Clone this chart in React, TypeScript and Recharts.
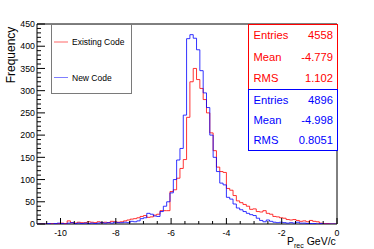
import React from "react";
import { LineChart, Line, XAxis, YAxis, ReferenceArea } from "recharts";

// Histogram binning (GeV/c)
const binStart = -10.84;
const binWidth = 0.12;

// Counts per bin, 90 bins
const existingCode = [
  0, 0, 0, 0, 1, 0, 1, 2, 1,
  7, 3, 2, 4, 3, 3, 5, 4, 3, 5, 3, 4, 3, 6, 5, 4,
  5, 7, 9, 11, 12, 14, 17, 19, 15, 16, 20, 22, 30, 30, 30, 73, 77, 103, 125,
  145, 240, 320, 350, 325, 305, 280, 250, 205,
  165, 128, 118, 116, 80, 76, 64, 52,
  48, 44, 40, 33, 34, 28, 27, 30, 24, 22, 17, 16, 14, 13, 10, 9, 10, 8, 6, 7, 5, 8, 6, 5, 2, 1, 1, 0, 0,
];

const newCode = [
  0, 0, 0, 1, 0, 1, 2, 1, 0,
  2, 3, 1, 2, 1, 2, 1, 2, 1, 2, 3, 2, 3, 2, 4, 3,
  3, 4, 3, 6, 5, 7, 12, 14, 24, 22, 18, 17, 28, 40, 50, 70, 100, 144, 170,
  245, 417, 426, 418, 392, 345, 295, 262, 200,
  150, 118, 92, 88, 60, 56, 45, 36,
  32, 28, 24, 21, 19, 13, 8, 5, 9, 6, 4, 3, 4, 3, 2, 3, 2, 4, 2, 2, 1, 1, 1, 0, 1, 0, 0, 0, 0,
];

const xMajorTicks = [-10, -8, -6, -4, -2, 0];
const xMinorTicks = [-10.5, -9.5, -9, -8.5, -7.5, -7, -6.5, -5.5, -5, -4.5, -3.5, -3, -2.5, -1.5, -1, -0.5];
const yMajorTicks = [0, 50, 100, 150, 200, 250, 300, 350, 400, 450];
const yMinorStep = 10;

const statLabels = ["Entries", "Mean", "RMS"];
const existingStats = ["4558", "-4.779", "1.102"];
const newStats = ["4896", "-4.998", "0.8051"];

const legendLabels = ["Existing Code", "New Code"];

const RED = "#ff0000";
const BLUE = "#0000ff";
const FONT = "'Liberation Sans', Arial, Helvetica, sans-serif";

const data = existingCode.map((v, i) => ({
  x: +(binStart + i * binWidth).toFixed(3),
  existing: v,
  newc: newCode[i],
}));
data.push({
  x: +(binStart + existingCode.length * binWidth).toFixed(3),
  existing: existingCode[existingCode.length - 1],
  newc: newCode[newCode.length - 1],
});

const xTicks = [...xMajorTicks, ...xMinorTicks].sort((a, b) => a - b);
const yTicks: number[] = [];
for (let t = 0; t <= 450; t += yMinorStep) yTicks.push(t);

const XTick = (props: any) => {
  const { x, y, payload } = props;
  const v = payload.value;
  const major = xMajorTicks.includes(v);
  return (
    <g>
      <line x1={x} x2={x} y1={y} y2={y - (major ? 6 : 3)} stroke="#000" strokeWidth={1} />
      {major && (
        <text x={x} y={y + 11.5} textAnchor="middle" fontSize={8.8} fontFamily={FONT} fill="#000">
          {v}
        </text>
      )}
    </g>
  );
};

const YTick = (props: any) => {
  const { x, y, payload } = props;
  const v = payload.value;
  const major = yMajorTicks.includes(v);
  return (
    <g>
      <line x1={x} x2={x + (major ? 8 : 4)} y1={y} y2={y} stroke="#000" strokeWidth={1} />
      {major && (
        <text x={x - 2} y={y + 3.2} textAnchor="end" fontSize={8.8} fontFamily={FONT} fill="#000">
          {v}
        </text>
      )}
    </g>
  );
};

const StatsBox = ({ y, h, color, values, rows }: any) => (
  <g>
    <rect x={248.5} y={y} width={89} height={h} fill="#fff" stroke={color} strokeWidth={1} />
    {statLabels.map((lab, i) => (
      <g key={lab}>
        <text x={253.5} y={rows[i] + 4} fontSize={11.2} fontFamily={FONT} fill={color}>
          {lab}
        </text>
        <text x={333} y={rows[i] + 4} fontSize={11.2} fontFamily={FONT} fill={color} textAnchor="end">
          {values[i]}
        </text>
      </g>
    ))}
  </g>
);

export default function App() {
  return (
    <div style={{ position: "absolute", left: 0, top: 0, width: 374, height: 249, background: "#fff" }}>
      <LineChart
        width={374}
        height={249}
        data={data}
        margin={{ top: 24, right: 37, bottom: 0, left: 0 }}
      >
        <XAxis
          dataKey="x"
          type="number"
          domain={[-10.85, 0]}
          ticks={xTicks}
          interval={0}
          height={25}
          tickSize={0}
          tickMargin={0}
          tickLine={false}
          axisLine={false}
          tick={<XTick />}
          allowDataOverflow
        />
        <YAxis
          type="number"
          domain={[0, 450]}
          ticks={yTicks}
          interval={0}
          width={37}
          tickSize={0}
          tickMargin={0}
          tickLine={false}
          axisLine={false}
          tick={<YTick />}
          allowDataOverflow
        />
        <ReferenceArea x1={-10.85} x2={0} y1={0} y2={450} fill="none" stroke="#000" strokeWidth={1} fillOpacity={0} />
        <Line
          dataKey="existing"
          type="stepAfter"
          stroke={RED}
          strokeOpacity={0.8}
          strokeWidth={1}
          dot={false}
          isAnimationActive={false}
        />
        <Line
          dataKey="newc"
          type="stepAfter"
          stroke={BLUE}
          strokeOpacity={0.8}
          strokeWidth={1}
          dot={false}
          isAnimationActive={false}
        />
      </LineChart>
      <svg
        width={374}
        height={249}
        style={{ position: "absolute", left: 0, top: 0, pointerEvents: "none" }}
      >
        {/* Legend */}
        <rect x={51.5} y={24.5} width={80} height={69} fill="#fff" stroke="#7a7a7a" strokeWidth={1} />
        <line x1={54} x2={68} y1={42} y2={42} stroke={RED} strokeOpacity={0.5} strokeWidth={1.2} />
        <text x={72} y={45} fontSize={8.5} fontFamily={FONT} fill="#000">
          {legendLabels[0]}
        </text>
        <line x1={54} x2={68} y1={77.5} y2={77.5} stroke={BLUE} strokeOpacity={0.5} strokeWidth={1} />
        <text x={72} y={80.5} fontSize={8.5} fontFamily={FONT} fill="#000">
          {legendLabels[1]}
        </text>

        {/* Stats boxes */}
        <StatsBox y={24.5} h={65} color={RED} values={existingStats} rows={[35, 57, 78]} />
        <StatsBox y={89.5} h={61} color={BLUE} values={newStats} rows={[100, 120, 140]} />

        {/* Axis titles */}
        <text
          transform="translate(14.5,55) rotate(-90)"
          textAnchor="middle"
          fontSize={12}
          fontFamily={FONT}
          fill="#000"
        >
          Frequency
        </text>
        <text x={287} y={245} fontSize={10.5} fontFamily={FONT} fill="#000">
          P
          <tspan fontSize={7} dy={2.5}>rec</tspan>
          <tspan fontSize={10.5} dy={-2.5}> GeV/c</tspan>
        </text>
      </svg>
    </div>
  );
}
